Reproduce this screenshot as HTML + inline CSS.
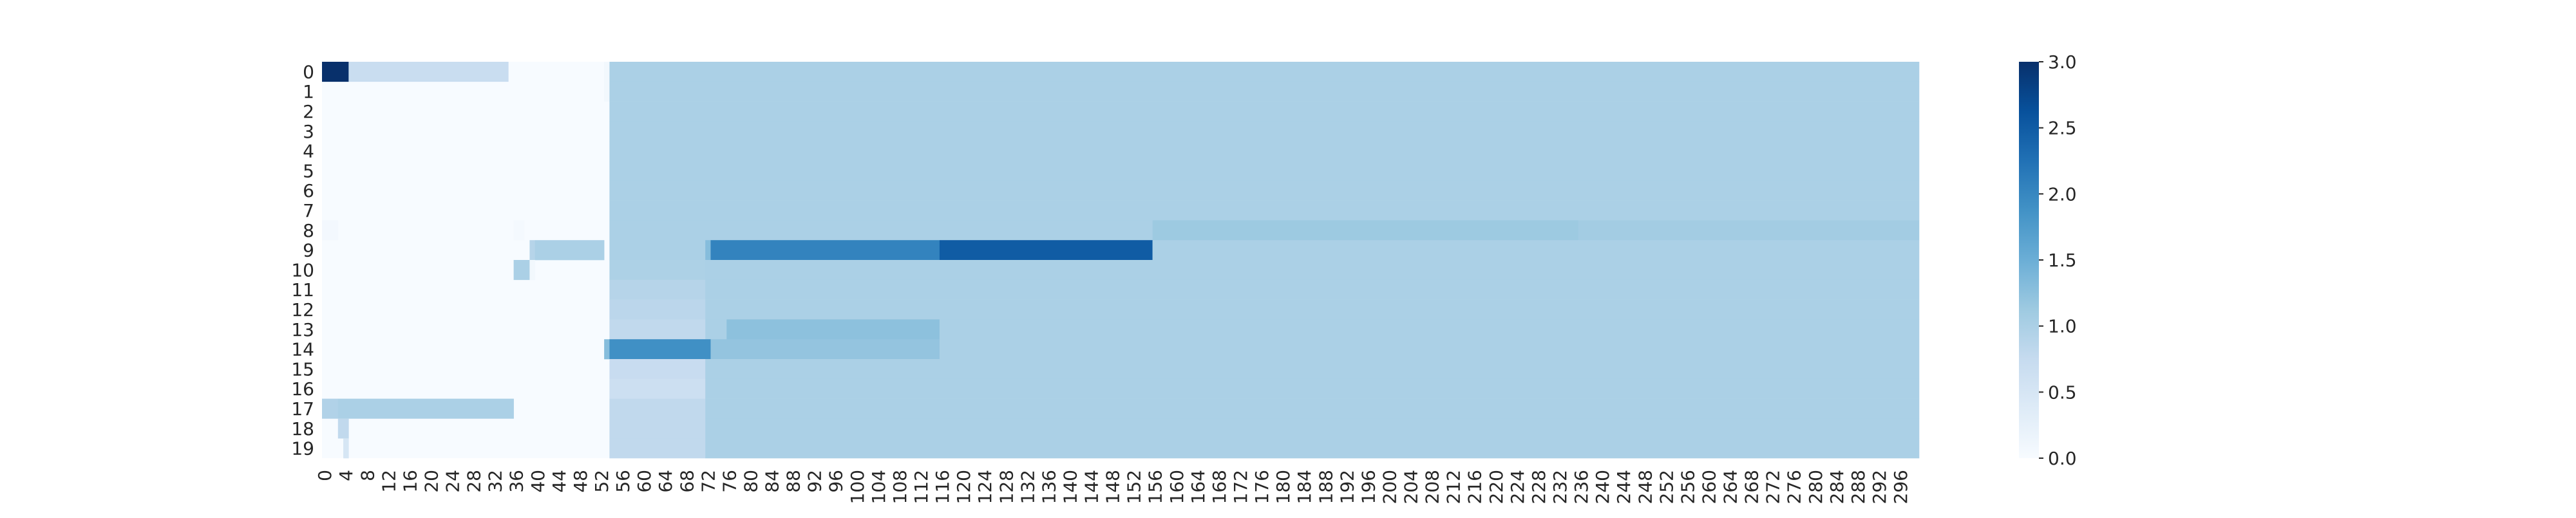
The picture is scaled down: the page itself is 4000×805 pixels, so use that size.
<!DOCTYPE html>
<html><head><meta charset="utf-8"><style>
html,body{margin:0;padding:0;background:#fff;}
svg text{font-family:"DejaVu Sans","Liberation Sans",sans-serif;fill:#262626;}
</style></head><body>
<svg id="chart" width="4000" height="800" xmlns="http://www.w3.org/2000/svg">
<defs>
<linearGradient id="cbgrad" x1="0" y1="1" x2="0" y2="0">
<stop offset="0" stop-color="#f7fbff"/><stop offset="0.125" stop-color="#deebf7"/><stop offset="0.25" stop-color="#c6dbef"/><stop offset="0.375" stop-color="#9ecae1"/><stop offset="0.5" stop-color="#6baed6"/><stop offset="0.625" stop-color="#4292c6"/><stop offset="0.75" stop-color="#2171b5"/><stop offset="0.875" stop-color="#08519c"/><stop offset="1" stop-color="#08306b"/>
</linearGradient>
</defs>
<g id="cells"></g>
<g id="yticks"></g>
<g id="xticks"></g>
<rect x="3135" y="96" width="31" height="616" fill="url(#cbgrad)"/>
<g id="cbticks"></g>
</svg>
<script>
const nRows = 20;
const nCols = 300;
const vMin = 0, vMax = 3;
// Runs per row: [startCol, endCol(inclusive), value]; unlisted cells = 0
const row0 = [[0,4,3.0],[5,34,0.7],[53,53,0.08],[54,299,1.0]];
const row1 = [[53,53,0.08],[54,299,1.0]];
const row2 = [[54,299,1.0]];
const row3 = [[54,299,1.0]];
const row4 = [[54,299,1.0]];
const row5 = [[54,299,1.0]];
const row6 = [[54,299,1.0]];
const row7 = [[54,299,1.0]];
const row8 = [[0,2,0.06],[36,37,0.05],[54,155,1.0],[156,235,1.13],[236,299,1.08]];
const row9 = [[39,39,0.9],[40,52,1.0],[54,71,1.0],[72,72,1.3],[73,115,2.05],[116,155,2.5],[156,299,1.0]];
const row10 = [[36,38,1.0],[39,39,0.08],[54,71,0.98],[72,299,1.0]];
const row11 = [[54,71,0.9],[72,299,1.0]];
const row12 = [[54,71,0.85],[72,299,1.0]];
const row13 = [[54,71,0.8],[72,75,1.0],[76,115,1.25],[116,299,1.0]];
const row14 = [[53,53,1.3],[54,72,1.9],[73,115,1.2],[116,299,1.0]];
const row15 = [[54,71,0.72],[72,299,1.0]];
const row16 = [[54,71,0.65],[72,299,1.0]];
const row17 = [[0,2,0.95],[3,35,1.0],[54,71,0.8],[72,299,1.0]];
const row18 = [[3,4,0.8],[54,71,0.8],[72,299,1.0]];
const row19 = [[4,4,0.5],[54,71,0.8],[72,299,1.0]];
const rowRuns = [row0,row1,row2,row3,row4,row5,row6,row7,row8,row9,row10,row11,row12,row13,row14,row15,row16,row17,row18,row19];
const rowLabels = ["0","1","2","3","4","5","6","7","8","9","10","11","12","13","14","15","16","17","18","19"];
const colTickStep = 4;
const cbTicks = ["0.0","0.5","1.0","1.5","2.0","2.5","3.0"];

const L=500, R=2980, T=96, B=712;
const cw=(R-L)/nCols, rh=(B-T)/nRows;
const xPos=c=>L+c*cw;
const yPos=r=>T+r*rh;
const cbY=v=>B-(v-vMin)/(vMax-vMin)*(B-T);
const blues=[[247,251,255],[222,235,247],[198,219,239],[158,202,225],[107,174,214],[66,146,198],[33,113,181],[8,81,156],[8,48,107]];
function color(v){
  let t=Math.max(0,Math.min(1,(v-vMin)/(vMax-vMin)))*(blues.length-1);
  let i=Math.min(Math.floor(t),blues.length-2), f=t-i;
  const a=blues[i],b=blues[i+1];
  return 'rgb('+a.map((x,k)=>Math.round(x+(b[k]-x)*f)).join(',')+')';
}
const NS='http://www.w3.org/2000/svg';
const cells=document.getElementById('cells');
const bg=document.createElementNS(NS,'rect');
bg.setAttribute('x',L);bg.setAttribute('y',T);bg.setAttribute('width',R-L);bg.setAttribute('height',B-T);bg.setAttribute('fill',color(0));


cells.appendChild(bg);
rowRuns.forEach((runs,r)=>{
  runs.forEach(([s,e,v])=>{
    const el=document.createElementNS(NS,'rect');
    el.setAttribute('x',xPos(s));el.setAttribute('y',yPos(r));
    el.setAttribute('width',xPos(e+1)-xPos(s)+0.3);el.setAttribute('height',rh+0.3);
    el.setAttribute('fill',color(v));
    
    
    cells.appendChild(el);
  });
});
const yt=document.getElementById('yticks');
rowLabels.forEach((lab,r)=>{
  const t=document.createElementNS(NS,'text');
  t.setAttribute('x',L-12);t.setAttribute('y',yPos(r)+rh/2+10);
  t.setAttribute('text-anchor','end');t.setAttribute('font-size','28');
  t.textContent=lab;
  
  
  yt.appendChild(t);
});
const xt=document.getElementById('xticks');
for(let c=0;c<nCols;c+=colTickStep){
  const x=xPos(c)+cw/2, y=730;
  const t=document.createElementNS(NS,'text');
  t.setAttribute('transform','translate('+(x+10)+','+y+') rotate(-90)');
  t.setAttribute('text-anchor','end');t.setAttribute('font-size','28');
  t.textContent=String(c);
  
  
  xt.appendChild(t);
}
const cb=document.getElementById('cbticks');
cbTicks.forEach(lab=>{
  const y=cbY(parseFloat(lab));
  const l=document.createElementNS(NS,'line');
  l.setAttribute('x1',3166);l.setAttribute('x2',3173);l.setAttribute('y1',y);l.setAttribute('y2',y);
  l.setAttribute('stroke','#262626');l.setAttribute('stroke-width','2');
  
  
  cb.appendChild(l);
  const t=document.createElementNS(NS,'text');
  t.setAttribute('x',3180);t.setAttribute('y',y+10);t.setAttribute('font-size','28');
  t.textContent=lab;
  
  
  cb.appendChild(t);
});
</script>
</body></html>
